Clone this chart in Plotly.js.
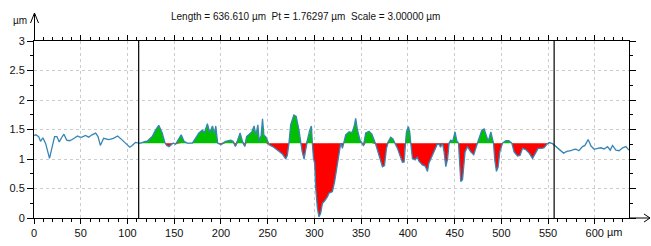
<!DOCTYPE html>
<html>
<head>
<meta charset="utf-8">
<script src="https://cdn.plot.ly/plotly-3.0.1.min.js"></script>
<style>html,body{margin:0;padding:0;background:#fff;}#chart{width:651px;height:246px;}</style>
</head>
<body>
<div id="chart"></div>
<script>
// Profile data (µm)
var profileX = [0,2,5,7,9.5,12.5,16.6,19.5,22,24.5,27,29.5,32,35,38,41,44,46.5,49,51.5,55,58.5,62,66,68.5,71,74.5,77.5,80,85,89.5,94.5,100,102.5,105,108.5,
112,114,119,121,126.5,130,133.5,137,140,142,144.5,147,149,151.5,155,157.5,160.5,164,169.5,173,176.5,180,182.5,185.5,188,191,193,194.5,196.5,200,205,210.5,213,215.5,218,220.5,223,225.5,227.5,230,233,235.5,237.5,239.5,241,243,244.5,246,247.9,
251.5,256.5,262,266,269.3,271,272.8,274.6,278,280.5,283.5,285.3,287,289,290.5,292.5,295,296.8,297.8,299,300.3,301.4,303.2,304.9,306.7,308.6,310.5,312,314,315.6,317.5,319.3,321.7,324.6,326.3,328.2,330,331.5,333.5,337,340.5,342.5,344.2,346,348.8,351,352.5,354.9,358.5,361.5,365.6,369.2,372.8,375,377.1,379.2,381.7,384,386.3,388.9,391.3,394.2,396,397,398.5,400.6,402,403.1,404.9,407.7,410,412,415.6,418.5,421,422.5,426.3,429.1,431.5,433.4,435,437,438.8,440.6,442.5,444.1,445.9,448,450.5,452.5,454.2,456.6,458.5,461.2,463.8,467.3,470.5,474.5,476.2,479.1,481.6,483.5,486,488.8,491.6,493,494.8,496.5,498.4,501.3,504.8,508,511.2,513.7,517.3,520,522.7,526,529.8,533.4,536.5,539.4,543,545.8,548.7,551.2,554.8,
557,560.2,563.7,566.6,570,574.4,577,579.8,583,586.9,589.5,592.9,596,599.4,603,606.5,610,613.7,616.5,619,622.6,626,629.8,633.3,636.6];
var profileY = [1.40,1.41,1.38,1.30,1.36,1.26,1.01,1.24,1.38,1.38,1.29,1.36,1.42,1.32,1.31,1.33,1.37,1.39,1.37,1.37,1.40,1.37,1.41,1.44,1.38,1.23,1.35,1.34,1.33,1.35,1.39,1.32,1.24,1.20,1.23,1.28,
1.27,1.27,1.30,1.30,1.38,1.49,1.57,1.45,1.28,1.23,1.21,1.25,1.27,1.25,1.35,1.41,1.30,1.27,1.27,1.35,1.44,1.49,1.45,1.60,1.45,1.56,1.42,1.56,1.27,1.24,1.30,1.32,1.30,1.21,1.32,1.44,1.30,1.21,1.38,1.41,1.46,1.56,1.40,1.58,1.30,1.40,1.68,1.40,1.38,
1.24,1.20,1.13,1.08,1.00,1.06,1.27,1.58,1.745,1.72,1.49,1.27,1.12,1.00,1.15,1.32,1.49,1.56,1.27,1.01,0.93,0.51,0.17,0.02,0.08,0.25,0.28,0.31,0.36,0.42,0.43,0.45,0.62,0.93,1.15,1.27,1.18,1.27,1.41,1.46,1.45,1.55,1.69,1.50,1.32,1.27,1.22,1.44,1.47,1.42,1.25,1.06,0.87,0.89,1.18,1.30,1.37,1.34,1.27,1.18,1.07,0.945,0.95,1.24,1.46,1.55,1.46,1.27,1.01,0.985,1.03,0.96,0.90,0.88,0.79,0.93,1.07,1.18,1.25,1.25,1.20,1.27,1.12,0.87,1.00,1.27,1.32,1.30,1.46,1.30,1.27,0.62,0.65,1.12,1.21,1.12,1.07,1.27,1.35,1.49,1.51,1.40,1.30,1.46,1.27,0.985,0.79,0.86,1.12,1.27,1.31,1.31,1.27,1.12,1.05,1.06,1.18,1.16,1.10,1.01,1.10,1.18,1.18,1.19,1.25,1.28,1.26,
1.23,1.19,1.15,1.10,1.13,1.14,1.16,1.165,1.14,1.21,1.23,1.33,1.22,1.165,1.18,1.19,1.17,1.21,1.15,1.23,1.15,1.14,1.19,1.21,1.15];

var meanLine = 1.267;              // reference (mean) line
var cursors = [112, 556.5];        // evaluation window
var xTickVals = [0,50,100,150,200,250,300,350,400,450,500,550,600];
var xTickText = ['0','50','100','150','200','250','300','350','400','450','500','550','600'];
var yTickVals = [0,0.5,1,1.5,2,2.5,3];
var yTickText = ['0','0.5','1','1.5','2','2.5','3'];
var titleText = 'Length = 636.610 µm \u00a0Pt = 1.76297 µm \u00a0Scale = 3.00000 µm';
var xRange = [0, 636.61];
var yRange = [0, 3];

// Build fill series within the cursor window
var fx = [], fUp = [], fDn = [], fBase = [];
for (var i = 0; i < profileX.length; i++) {
  if (profileX[i] >= cursors[0] && profileX[i] <= cursors[1]) {
    fx.push(profileX[i]);
    fUp.push(Math.max(profileY[i], meanLine));
    fDn.push(Math.min(profileY[i], meanLine));
    fBase.push(meanLine);
  }
}

var W = 651, H = 246, mL = 34, mR = 22, mT = 41, mB = 28;
var pw = W - mL - mR, ph = H - mT - mB;
function pxX(p){ return (p - mL) / pw; }
function pxY(p){ return (H - mB - p) / ph; }

var FONT = '"Liberation Sans", Arial, sans-serif';

var traces = [
  {x: fx, y: fBase, mode: 'lines', line: {width: 0, color: 'rgba(0,0,0,0)'}, hoverinfo: 'skip', showlegend: false},
  {x: fx, y: fUp, mode: 'lines', fill: 'tonexty', fillcolor: '#00c000', line: {width: 0, color: 'rgba(0,0,0,0)'}, hoverinfo: 'skip', showlegend: false},
  {x: fx, y: fBase, mode: 'lines', line: {width: 0, color: 'rgba(0,0,0,0)'}, hoverinfo: 'skip', showlegend: false},
  {x: fx, y: fDn, mode: 'lines', fill: 'tonexty', fillcolor: '#ff0000', line: {width: 0, color: 'rgba(0,0,0,0)'}, hoverinfo: 'skip', showlegend: false},
  {x: profileX, y: profileY, mode: 'lines', line: {width: 1.3, color: '#3585b5'}, showlegend: false}
];

var shapes = [];
cursors.forEach(function(c){
  shapes.push({type: 'line', xref: 'x', yref: 'paper', x0: c, x1: c, y0: 0, y1: 1, line: {color: '#000', width: 1.2}});
});
// y-axis arrow
shapes.push({type: 'line', xref: 'paper', yref: 'paper', x0: pxX(34.5), x1: pxX(34.5), y0: 1, y1: pxY(13), line: {color: '#000', width: 1}});
shapes.push({type: 'line', xref: 'paper', yref: 'paper', x0: pxX(30.5), x1: pxX(34.5), y0: pxY(23), y1: pxY(13), line: {color: '#000', width: 1}});
shapes.push({type: 'line', xref: 'paper', yref: 'paper', x0: pxX(38.5), x1: pxX(34.5), y0: pxY(23), y1: pxY(13), line: {color: '#000', width: 1}});
// x-axis arrow
shapes.push({type: 'line', xref: 'paper', yref: 'paper', x0: 1, x1: pxX(650), y0: 0, y1: 0, line: {color: '#000', width: 1}});
shapes.push({type: 'line', xref: 'paper', yref: 'paper', x0: pxX(644), x1: pxX(650), y0: pxY(214), y1: pxY(218), line: {color: '#000', width: 1}});
shapes.push({type: 'line', xref: 'paper', yref: 'paper', x0: pxX(644), x1: pxX(650), y0: pxY(222), y1: pxY(218), line: {color: '#000', width: 1}});

var annotations = [
  {xref: 'paper', yref: 'paper', x: pxX(305), y: pxY(17), text: titleText, showarrow: false, xanchor: 'center', yanchor: 'middle', font: {family: FONT, size: 10, color: '#111'}},
  {xref: 'paper', yref: 'paper', x: pxX(20), y: pxY(21), text: 'µm', showarrow: false, xanchor: 'center', yanchor: 'middle', font: {family: FONT, size: 10, color: '#111'}},
  {xref: 'paper', yref: 'paper', x: pxX(605), y: pxY(232), text: 'µm', showarrow: false, xanchor: 'left', yanchor: 'middle', font: {family: FONT, size: 11, color: '#111'}}
];

var layout = {
  width: W, height: H,
  margin: {l: mL, r: mR, t: mT, b: mB, pad: 0},
  paper_bgcolor: '#fff', plot_bgcolor: '#fff',
  showlegend: false,
  font: {family: FONT, size: 11, color: '#111'},
  xaxis: {
    range: xRange, fixedrange: true,
    tickmode: 'array', tickvals: xTickVals, ticktext: xTickText,
    ticks: 'outside', ticklen: 5, tickcolor: '#000', tickwidth: 1,
    showline: true, linecolor: '#000', linewidth: 1, mirror: 'ticks',
    showgrid: true, gridcolor: '#cccccc', griddash: '3px,3px', gridwidth: 1,
    zeroline: false,
    minor: {dtick: 10, ticks: 'outside', ticklen: 3, tickcolor: '#000', showgrid: false},
    tickfont: {family: FONT, size: 11, color: '#111'}
  },
  yaxis: {
    range: yRange, fixedrange: true,
    tickmode: 'array', tickvals: yTickVals, ticktext: yTickText,
    ticks: 'outside', ticklen: 6, tickcolor: '#000', tickwidth: 1,
    showline: true, linecolor: '#000', linewidth: 1, mirror: 'ticks',
    showgrid: true, gridcolor: '#cccccc', griddash: '3px,3px', gridwidth: 1,
    zeroline: false,
    minor: {dtick: 0.25, ticks: 'outside', ticklen: 3, tickcolor: '#000', showgrid: false},
    tickfont: {family: FONT, size: 11, color: '#111'}
  },
  shapes: shapes,
  annotations: annotations
};

Plotly.newPlot('chart', traces, layout, {staticPlot: true, displayModeBar: false});
</script>
</body>
</html>
